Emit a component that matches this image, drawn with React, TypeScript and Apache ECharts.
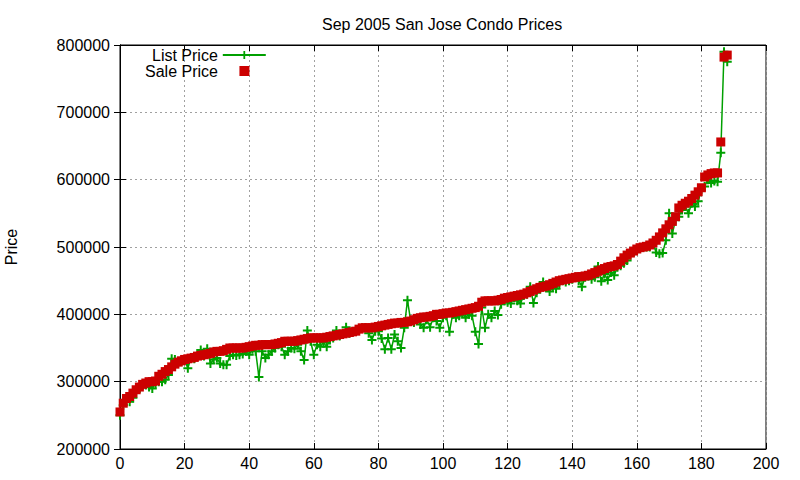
import React, { useEffect, useRef } from 'react';
import * as echarts from 'echarts';

// Price values per condo, sorted by sale price (index 0..188)
const salePrice: number[] = [
  255000, 268000, 275000, 278000, 283000, 288000, 292000, 296000, 298000, 300000,
  300000, 301000, 308000, 311000, 315000, 318000, 322000, 326000, 329000, 331000,
  333000, 334000, 335000, 336000, 338000, 339000, 340000, 341000, 342000, 344000,
  345000, 345000, 346000, 348000, 350000, 350000, 350000, 350000, 350000, 351000,
  352000, 353000, 354000, 354000, 355000, 355000, 355000, 355000, 356000, 357000,
  358000, 360000, 360000, 360000, 360000, 361000, 362000, 363000, 364000, 365000,
  365000, 365000, 365000, 365000, 366000, 367000, 368000, 369000, 370000, 371000,
  372000, 373000, 374000, 375000, 378000, 380000, 380000, 380000, 380000, 381000,
  382000, 383000, 384000, 385000, 386000, 387000, 387000, 388000, 388000, 389000,
  390000, 392000, 394000, 395000, 396000, 396000, 397000, 398000, 400000, 400000,
  401000, 402000, 402000, 403000, 404000, 405000, 406000, 407000, 408000, 409000,
  410000, 412000, 418000, 420000, 420000, 420000, 420000, 421000, 422000, 424000,
  425000, 426000, 427000, 428000, 429000, 430000, 432000, 434000, 436000, 438000,
  440000, 441000, 442000, 444000, 446000, 448000, 450000, 451000, 452000, 453000,
  454000, 455000, 456000, 456000, 457000, 458000, 460000, 462000, 464000, 466000,
  468000, 470000, 471000, 472000, 474000, 479000, 484000, 488000, 491000, 494000,
  497000, 499000, 500000, 501000, 503000, 506000, 510000, 515000, 521000, 527000,
  533000, 538000, 545000, 558000, 562000, 565000, 568000, 572000, 577000, 582000,
  588000, 604000, 607000, 609000, 610000, 610000, 656000, 782000, 785000,
];

const listPrice: number[] = [
  250000, 265000, 272000, 270000, 276000, 285000, 290000, 296000, 295000, 292000,
  290000, 297000, 300000, 300000, 303000, 310000, 334000, 333000, 328000, 330000,
  333000, 320000, 336000, 334000, 338000, 347000, 338000, 349000, 327000, 333000,
  335000, 327000, 325000, 325000, 338000, 340000, 339000, 340000, 341000, 345000,
  340000, 348000, 345000, 307000, 345000, 335000, 340000, 345000, 350000, 355000,
  352000, 340000, 345000, 350000, 349000, 355000, 345000, 332000, 376000, 360000,
  340000, 355000, 352000, 358000, 352000, 362000, 365000, 376000, 368000, 370000,
  381000, 372000, 374000, 375000, 378000, 380000, 380000, 372000, 362000, 375000,
  375000, 364000, 348000, 365000, 348000, 370000, 360000, 350000, 380000, 421000,
  390000, 388000, 392000, 385000, 380000, 392000, 381000, 395000, 390000, 380000,
  395000, 398000, 374000, 400000, 395000, 398000, 402000, 395000, 400000, 398000,
  374000, 356000, 410000, 380000, 400000, 395000, 405000, 399000, 415000, 420000,
  418000, 416000, 425000, 420000, 416000, 428000, 430000, 441000, 417000, 432000,
  440000, 448000, 440000, 434000, 440000, 438000, 445000, 450000, 448000, 450000,
  452000, 455000, 450000, 441000, 455000, 457000, 452000, 455000, 471000, 449000,
  460000, 451000, 462000, 458000, 470000, 472000, 476000, 480000, 488000, 492000,
  495000, 498000, 500000, 500000, 500000, 505000, 492000, 490000, 491000, 510000,
  550000, 520000, 540000, 545000, 555000, 560000, 550000, 565000, 560000, 568000,
  585000, 590000, 600000, 595000, 598000, 597000, 640000, 790000, 775000,
];

const seriesNames = ['List Price', 'Sale Price'];

const FONT = '"Liberation Sans", Arial, sans-serif';
const GREEN = '#00a000';
const RED = '#cc0000';
const CROSS = 'path://M3.5,0h2v3.5h3.5v2h-3.5v3.5h-2v-3.5h-3.5v-2h3.5z';
const SQUARE = 'path://M0,0H8V8H0Z';

const App: React.FC = () => {
  const chartRef = useRef<HTMLDivElement>(null);

  useEffect(() => {
    document.body.style.margin = '0';
    if (!chartRef.current) return;
    const chart = echarts.init(chartRef.current, undefined, { renderer: 'svg' });

    const xBase = {
      type: 'value' as const,
      min: 0,
      max: 200,
      interval: 20,
      axisLine: { show: true, lineStyle: { color: '#000', width: 1 } },
      axisTick: { show: true, inside: true, length: 6, lineStyle: { color: '#000' } },
    };
    const yBase = {
      type: 'value' as const,
      min: 200000,
      max: 800000,
      interval: 100000,
      axisLine: { show: true, lineStyle: { color: '#000', width: 1 } },
      axisTick: { show: true, inside: true, length: 6, lineStyle: { color: '#000' } },
    };
    const grid = { show: true, lineStyle: { color: '#a0a0a0', type: [2, 3] as number[], width: 1 } };

    const legendBase = {
      orient: 'vertical' as const,
      align: 'right' as const,
      padding: 0,
      itemWidth: 43,
      itemHeight: 10,
      textStyle: { fontFamily: FONT, fontSize: 16, color: '#000' },
    };

    chart.setOption({
      animation: false,
      backgroundColor: '#fff',
      title: {
        text: 'Sep 2005 San Jose Condo Prices',
        left: 317,
        top: 11,
        textStyle: { fontFamily: FONT, fontSize: 16, fontWeight: 'normal', color: '#000' },
      },
      legend: [
        { ...legendBase, left: 152, top: 47, data: [{ name: seriesNames[0] }] },
        { ...legendBase, left: 145, top: 63, data: [{ name: seriesNames[1], icon: SQUARE }] },
      ],
      grid: {
        left: 120,
        right: 34,
        top: 45,
        bottom: 31,
        outerBoundsMode: 'none',
        show: true,
        borderColor: '#000',
        borderWidth: 1,
      },
      xAxis: [
        {
          ...xBase,
          position: 'bottom',
          axisLabel: { fontFamily: FONT, fontSize: 16, color: '#000', margin: 6 },
          splitLine: grid,
        },
        { ...xBase, position: 'top', axisLabel: { show: false }, splitLine: { show: false } },
      ],
      yAxis: [
        {
          ...yBase,
          position: 'left',
          name: 'Price',
          nameLocation: 'middle',
          nameRotate: 90,
          nameGap: 101,
          nameTextStyle: { fontFamily: FONT, fontSize: 16, color: '#000' },
          axisLabel: {
            fontFamily: FONT,
            fontSize: 16,
            color: '#000',
            margin: 10,
            formatter: (v: number) => String(v),
          },
          splitLine: grid,
        },
        { ...yBase, position: 'right', axisLabel: { show: false }, splitLine: { show: false } },
      ],
      series: [
        {
          name: seriesNames[0],
          type: 'line',
          data: listPrice.map((v, i) => [i, v]),
          symbol: CROSS,
          symbolSize: 9,
          showAllSymbol: true,
          lineStyle: { color: GREEN, width: 1.5 },
          itemStyle: { color: GREEN },
          z: 2,
        },
        {
          name: seriesNames[1],
          type: 'scatter',
          data: salePrice.map((v, i) => [i, v]),
          symbol: 'rect',
          symbolSize: 9,
          itemStyle: { color: RED, opacity: 1 },
          z: 3,
        },
      ],
    });

    return () => {
      chart.dispose();
    };
  }, []);

  return <div ref={chartRef} style={{ width: 800, height: 480 }} />;
};

export default App;
